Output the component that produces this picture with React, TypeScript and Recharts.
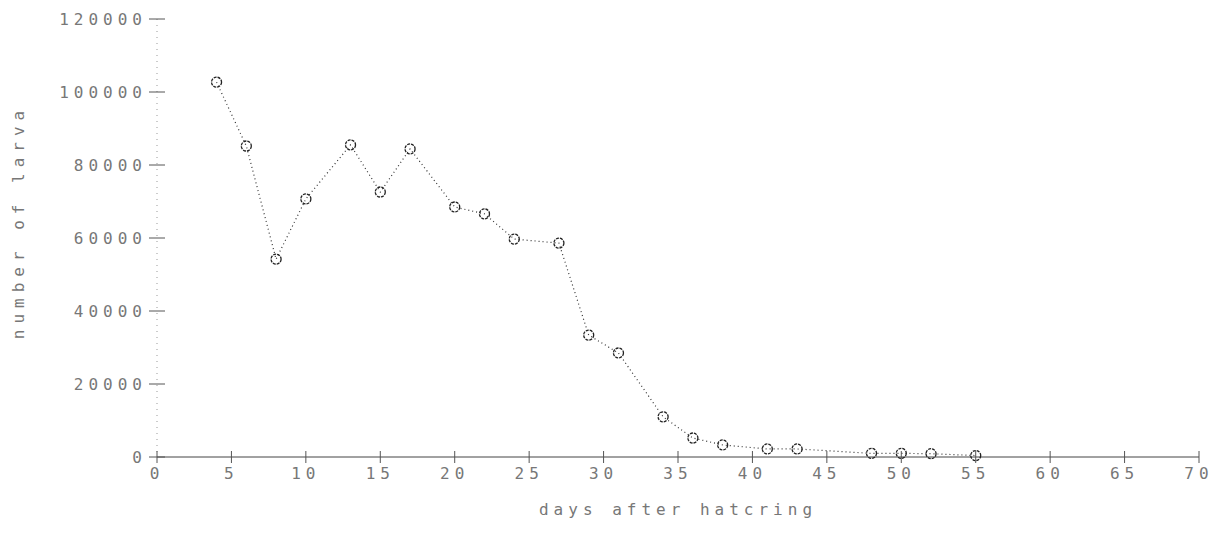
import { LineChart, Line, XAxis, YAxis, Label } from "recharts"

const days = [4, 6, 8, 10, 13, 15, 17, 20, 22, 24, 27, 29, 31, 34, 36, 38, 41, 43, 48, 50, 52, 55]
const larva = [
  102700, 85200, 54200, 70700, 85500, 72600, 84400, 68500, 66600, 59700, 58600,
  33400, 28500, 11000, 5200, 3300, 2200, 2200, 1000, 1000, 900, 400,
]
const xTicks = [0, 5, 10, 15, 20, 25, 30, 35, 40, 45, 50, 55, 60, 65, 70]
const yTicks = [0, 20000, 40000, 60000, 80000, 100000, 120000]

const data = days.map((d, i) => ({ day: d, larva: larva[i] }))

const font = "'DejaVu Sans Mono', monospace"
const ink = "#777"

function XTick(props: any) {
  const { x, y, payload } = props
  return (
    <g>
      <line x1={x} y1={y - 6} x2={x} y2={y + 6} stroke="#555" strokeWidth={1} />
      <text
        x={x}
        y={y + 22}
        textAnchor="middle"
        fontFamily={font}
        fontSize={16}
        letterSpacing={5}
        fill={ink}
      >
        {payload.value}
      </text>
    </g>
  )
}

function YTick(props: any) {
  const { x, y, payload } = props
  return (
    <g>
      <line x1={x - 8} y1={y} x2={x + 8} y2={y} stroke="#555" strokeWidth={1} />
      <text
        x={x - 10}
        y={y}
        dy="0.35em"
        textAnchor="end"
        fontFamily={font}
        fontSize={16}
        letterSpacing={5}
        fill={ink}
      >
        {payload.value}
      </text>
    </g>
  )
}

export default function App() {
  return (
    <div style={{ position: "absolute", left: 0, top: 0, width: 1216, height: 546, background: "#fff" }}>
      <LineChart
        width={1216}
        height={546}
        data={data}
        margin={{ top: 19, right: 17, left: 17, bottom: 27 }}
      >
        <XAxis
          dataKey="day"
          type="number"
          domain={[0, 70]}
          ticks={xTicks}
          interval={0}
          height={62}
          tickSize={0}
          tickMargin={0}
          tickLine={false}
          axisLine={{ stroke: "#444", strokeWidth: 1 }}
          tick={<XTick />}
        >
          <Label
            value="days after hatcring"
            position="insideBottom"
            offset={4}
            style={{ fontFamily: font, fontSize: 16, letterSpacing: 5, fill: ink }}
          />
        </XAxis>
        <YAxis
          type="number"
          domain={[0, 120000]}
          ticks={yTicks}
          interval={0}
          width={140}
          tickSize={0}
          tickMargin={0}
          tickLine={false}
          axisLine={{ stroke: "#999", strokeDasharray: "1 5" }}
          tick={<YTick />}
        >
          <Label
            content={() => (
              <text
                x={24}
                y={222}
                transform="rotate(-90, 24, 222)"
                textAnchor="middle"
                fontFamily={font}
                fontSize={16}
                letterSpacing={6}
                fill={ink}
              >
                number of larva
              </text>
            )}
          />
        </YAxis>
        <Line
          type="linear"
          dataKey="larva"
          stroke="#333"
          strokeWidth={1.2}
          strokeDasharray="1 3"
          dot={{ r: 5, fill: "none", stroke: "#222", strokeWidth: 1.3, strokeDasharray: "3 1" }}
          isAnimationActive={false}
        />
      </LineChart>
    </div>
  )
}
